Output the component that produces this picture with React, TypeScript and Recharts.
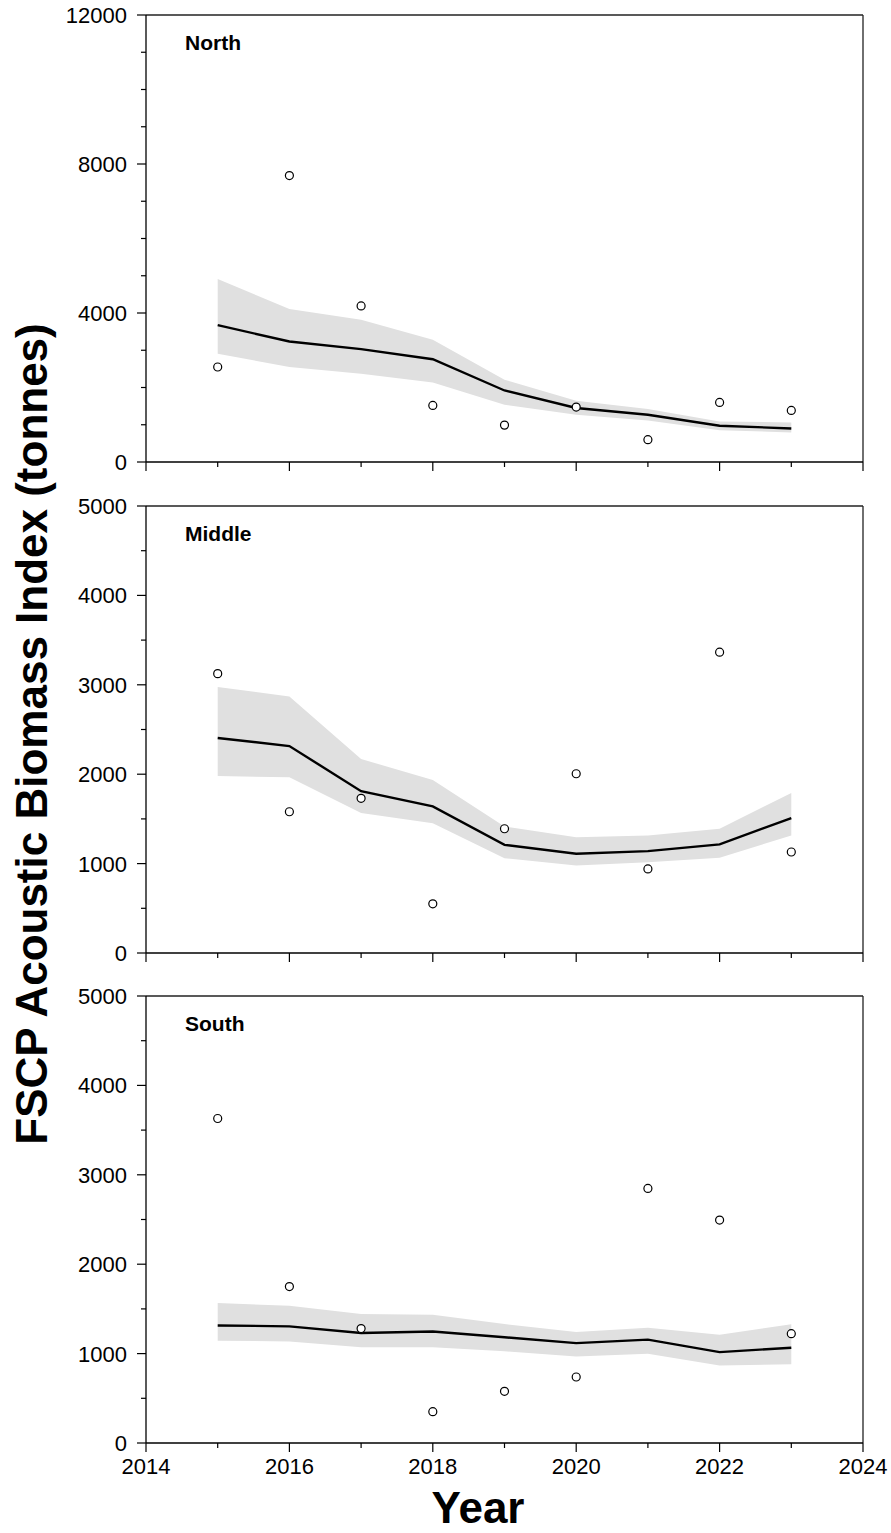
import React from "react";
import {
  ComposedChart,
  Area,
  Line,
  Scatter,
  XAxis,
  YAxis,
  ReferenceLine,
} from "recharts";

const YEARS = [2015, 2016, 2017, 2018, 2019, 2020, 2021, 2022, 2023];
const X_TICKS = [2014, 2015, 2016, 2017, 2018, 2019, 2020, 2021, 2022, 2023, 2024];

// North
const NORTH_OBS = [2550, 7690, 4190, 1520, 990, 1475, 600, 1600, 1385];
const NORTH_FIT = [3675, 3235, 3030, 2760, 1920, 1450, 1270, 975, 900];
const NORTH_LOW = [2905, 2550, 2370, 2135, 1540, 1270, 1115, 850, 795];
const NORTH_HIGH = [4910, 4105, 3820, 3280, 2210, 1645, 1420, 1090, 1060];
const NORTH_Y_TICKS = [0, 1000, 2000, 3000, 4000, 5000, 6000, 7000, 8000, 9000, 10000, 11000, 12000];

// Middle
const MIDDLE_OBS = [3125, 1580, 1730, 550, 1390, 2005, 940, 3365, 1130];
const MIDDLE_FIT = [2405, 2315, 1810, 1640, 1210, 1110, 1140, 1215, 1510];
const MIDDLE_LOW = [1980, 1965, 1565, 1450, 1060, 980, 1015, 1065, 1315];
const MIDDLE_HIGH = [2975, 2870, 2170, 1935, 1415, 1295, 1315, 1390, 1790];

// South
const SOUTH_OBS = [3630, 1750, 1280, 350, 578, 738, 2848, 2494, 1223];
const SOUTH_FIT = [1315, 1305, 1230, 1248, 1183, 1117, 1156, 1017, 1065];
const SOUTH_LOW = [1145, 1135, 1070, 1070, 1025, 967, 998, 868, 880];
const SOUTH_HIGH = [1565, 1535, 1442, 1434, 1330, 1242, 1290, 1211, 1329];

const FIVE_K_TICKS = [0, 500, 1000, 1500, 2000, 2500, 3000, 3500, 4000, 4500, 5000];

const FONT = "'Liberation Sans', Arial, sans-serif";
const INK = "#000";

function renderXTick(props: any, showLabel: boolean) {
  const { x, y, payload } = props;
  const major = payload.value % 2 === 0;
  return (
    <g>
      <line x1={x} x2={x} y1={y} y2={y + (major ? 9 : 5)} stroke={INK} strokeWidth={1.2} />
      {showLabel && major && (
        <text x={x} y={y + 31} textAnchor="middle" fontFamily={FONT} fontSize={22} fill={INK}>
          {payload.value}
        </text>
      )}
    </g>
  );
}

function renderYTick(props: any, majorStep: number) {
  const { x, y, payload } = props;
  const major = payload.value % majorStep === 0;
  return (
    <g>
      <line x1={x - (major ? 9 : 5)} x2={x} y1={y} y2={y} stroke={INK} strokeWidth={1.2} />
      {major && (
        <text x={x - 19} y={y} dy="0.36em" textAnchor="end" fontFamily={FONT} fontSize={22} fill={INK}>
          {payload.value}
        </text>
      )}
    </g>
  );
}

interface PanelProps {
  top: number;
  height: number;
  xAxisHeight: number;
  yMax: number;
  yTicks: number[];
  majorStep: number;
  obs: number[];
  fit: number[];
  low: number[];
  high: number[];
  showYearLabels?: boolean;
}

function Panel({ top, height, xAxisHeight, yMax, yTicks, majorStep, obs, fit, low, high, showYearLabels }: PanelProps) {
  const data = YEARS.map((year, i) => ({
    year,
    obs: obs[i],
    fit: fit[i],
    band: [low[i], high[i]],
  }));

  return (
    <div style={{ position: "absolute", left: 0, top }}>
      <ComposedChart width={891} height={height} data={data} margin={{ top: 15, right: 28, bottom: 0, left: 0 }}>
        <XAxis
          dataKey="year"
          type="number"
          domain={[2014, 2024]}
          ticks={X_TICKS}
          interval={0}
          height={xAxisHeight}
          tickSize={0}
          tickMargin={0}
          tickLine={false}
          axisLine={{ stroke: INK, strokeWidth: 1.3 }}
          tick={(p: any) => renderXTick(p, !!showYearLabels)}
          allowDataOverflow
        />
        <YAxis
          type="number"
          domain={[0, yMax]}
          ticks={yTicks}
          interval={0}
          width={146}
          tickSize={0}
          tickMargin={0}
          tickLine={false}
          axisLine={{ stroke: INK, strokeWidth: 1.3 }}
          tick={(p: any) => renderYTick(p, majorStep)}
          allowDataOverflow
        />
        <ReferenceLine y={yMax} stroke="#222" strokeWidth={1.3} />
        <ReferenceLine x={2024} stroke="#222" strokeWidth={1.3} />
        <Area
          dataKey="band"
          type="linear"
          stroke="none"
          fill="#e0e0e0"
          fillOpacity={1}
          isAnimationActive={false}
        />
        <Line
          dataKey="fit"
          type="linear"
          stroke={INK}
          strokeWidth={2.4}
          dot={false}
          isAnimationActive={false}
        />
        <Scatter
          dataKey="obs"
          isAnimationActive={false}
          shape={(p: any) => (
            <circle cx={p.cx} cy={p.cy} r={4} fill="#fff" stroke={INK} strokeWidth={1.2} />
          )}
        />
      </ComposedChart>
    </div>
  );
}

export default function App() {
  return (
    <div style={{ position: "absolute", left: 0, top: 0, width: 891, height: 1533, background: "#fff" }}>
      <Panel
        top={0}
        height={492}
        xAxisHeight={30}
        yMax={12000}
        yTicks={NORTH_Y_TICKS}
        majorStep={4000}
        obs={NORTH_OBS}
        fit={NORTH_FIT}
        low={NORTH_LOW}
        high={NORTH_HIGH}
      />
      <Panel
        top={491}
        height={492}
        xAxisHeight={30}
        yMax={5000}
        yTicks={FIVE_K_TICKS}
        majorStep={1000}
        obs={MIDDLE_OBS}
        fit={MIDDLE_FIT}
        low={MIDDLE_LOW}
        high={MIDDLE_HIGH}
      />
      <Panel
        top={981}
        height={540}
        xAxisHeight={78}
        yMax={5000}
        yTicks={FIVE_K_TICKS}
        majorStep={1000}
        obs={SOUTH_OBS}
        fit={SOUTH_FIT}
        low={SOUTH_LOW}
        high={SOUTH_HIGH}
        showYearLabels
      />
      <svg
        width={891}
        height={1533}
        style={{ position: "absolute", left: 0, top: 0, pointerEvents: "none" }}
      >
        <g fontFamily={FONT} fontWeight="bold" fill={INK}>
          <text x={185} y={50} fontSize={21}>North</text>
          <text x={185} y={541} fontSize={21}>Middle</text>
          <text x={185} y={1031} fontSize={21}>South</text>
          <text x={478} y={1523} fontSize={44} textAnchor="middle">Year</text>
          <text x={47} y={734} fontSize={44} textAnchor="middle" transform="rotate(-90 47 734)">
            FSCP Acoustic Biomass Index (tonnes)
          </text>
        </g>
      </svg>
    </div>
  );
}
